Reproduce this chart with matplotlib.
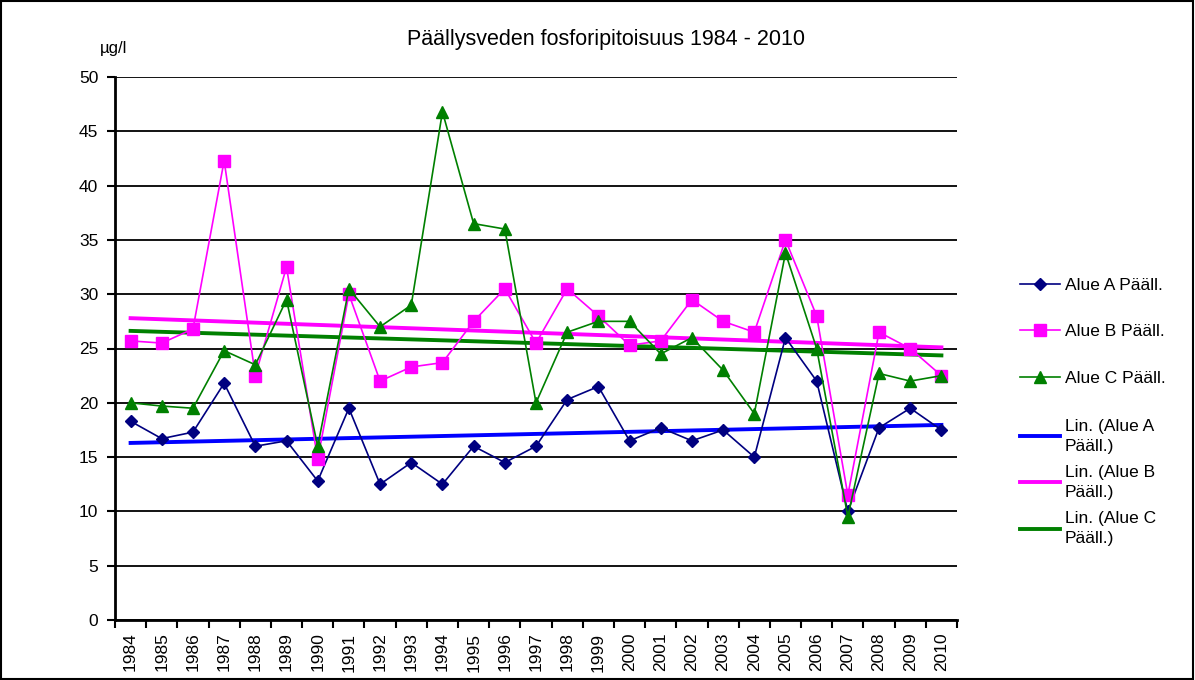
import numpy as np
import matplotlib
matplotlib.use('Agg')
import matplotlib.pyplot as plt
from matplotlib.patches import Rectangle

plt.rcParams['font.family'] = ['Liberation Sans', 'DejaVu Sans']

# Data
years = [str(y) for y in range(1984, 2011)]
alue_a = [18.3, 16.7, 17.3, 21.8, 16.0, 16.5, 12.8, 19.5, 12.5, 14.5, 12.5, 16.0, 14.5, 16.0,
          20.3, 21.5, 16.5, 17.7, 16.5, 17.5, 15.0, 26.0, 22.0, 10.0, 17.7, 19.5, 17.5]
alue_b = [25.7, 25.5, 26.8, 42.3, 22.5, 32.5, 14.8, 30.0, 22.0, 23.3, 23.7, 27.5, 30.5, 25.5,
          30.5, 28.0, 25.3, 25.7, 29.5, 27.5, 26.5, 35.0, 28.0, 11.5, 26.5, 25.0, 22.5]
alue_c = [20.0, 19.7, 19.5, 24.8, 23.5, 29.5, 16.0, 30.5, 27.0, 29.0, 46.8, 36.5, 36.0, 20.0,
          26.5, 27.5, 27.5, 24.5, 26.0, 23.0, 19.0, 33.8, 25.0, 9.5, 22.7, 22.0, 22.5]

x = np.arange(len(years))

fig = plt.figure(figsize=(11.95, 6.8), dpi=100)
ax = fig.add_axes([115 / 1195, 1 - 620 / 680, (957 - 115) / 1195, (620 - 77) / 680])

# Series
series = []
series += ax.plot(x, alue_a, color='#000080', lw=1.2, marker='D', ms=6, label='Alue A Pääll.', zorder=4)
series += ax.plot(x, alue_b, color='#FF00FF', lw=1.2, marker='s', ms=8, label='Alue B Pääll.', zorder=4)
series += ax.plot(x, alue_c, color='#008000', lw=1.2, marker='^', ms=8, label='Alue C Pääll.', zorder=4)

# Linear trendlines
trends = []
for vals, col, lab in [(alue_a, '#0000FF', 'Lin. (Alue A\nPääll.)'),
                       (alue_b, '#FF00FF', 'Lin. (Alue B\nPääll.)'),
                       (alue_c, '#008000', 'Lin. (Alue C\nPääll.)')]:
    k, b = np.polyfit(x, vals, 1)
    trends += ax.plot(x, k * x + b, color=col, lw=2.8, label=lab, zorder=3)

ax.set_xlim(-0.5, len(years) - 0.5)
ax.set_ylim(0, 50)
ax.set_yticks(np.arange(0, 51, 5))
ax.set_xticks(x)
ax.set_xticklabels(years, rotation=90, fontsize=12.5)
ax.set_xticks(np.arange(-0.5, len(years), 1), minor=True)
ax.tick_params(axis='x', which='major', length=0, pad=9)
ax.tick_params(axis='x', which='minor', length=6, width=1.5, direction='out')
ax.tick_params(axis='y', length=6, width=1.5, direction='out', labelsize=12.5, pad=6)

ax.grid(axis='y', color='black', lw=1.3)
ax.set_axisbelow(True)
for s in ['top', 'right']:
    ax.spines[s].set_visible(False)
for s in ['left', 'bottom']:
    ax.spines[s].set_linewidth(2)

fig.text(606 / 1195, 1 - 40 / 680, 'Päällysveden fosforipitoisuus 1984 - 2010',
         ha='center', va='center', fontsize=15.5)
fig.text(100 / 1195, 1 - 48 / 680, 'µg/l', ha='left', va='center', fontsize=12)

leg1 = ax.legend(handles=series, loc='upper left', bbox_to_anchor=(1004 / 1195, 1 - 262 / 680),
                 bbox_transform=fig.transFigure, frameon=False, fontsize=12.5,
                 handlelength=2.3, labelspacing=1.8, handletextpad=0.3)
ax.add_artist(leg1)
leg2 = ax.legend(handles=trends, loc='upper left', bbox_to_anchor=(1004 / 1195, 1 - 403 / 680),
                 bbox_transform=fig.transFigure, frameon=False, fontsize=12.5,
                 handlelength=2.3, labelspacing=0.62, handletextpad=0.3)
for t in leg2.get_texts():
    t.set_linespacing(1.45)

fig.patches.append(Rectangle((0.0005, 0.001), 0.998, 0.997, transform=fig.transFigure,
                             fill=False, edgecolor='black', lw=1.5))

plt.savefig('out.png', dpi=100)
plt.close()
